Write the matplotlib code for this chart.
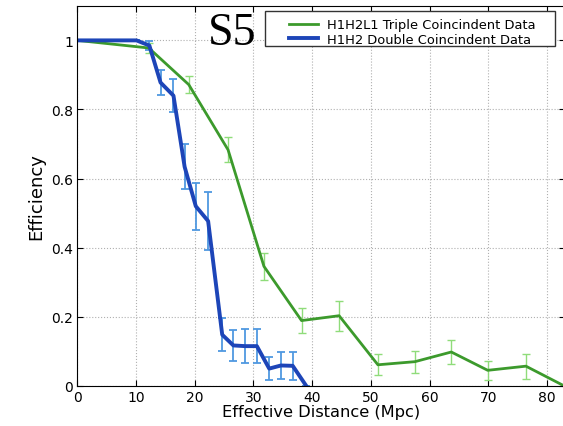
import matplotlib.pyplot as plt
from matplotlib.patches import Rectangle

# Efficiency vs effective distance, S5 run
triple_dist = [0, 12.2, 19.0, 25.7, 31.8, 38.2, 44.6, 51.2, 57.5, 63.7, 69.9, 76.4, 82.9]
triple_eff = [1.0, 0.978, 0.872, 0.683, 0.346, 0.189, 0.203, 0.061, 0.07, 0.098, 0.045, 0.057, 0.0]
triple_err = [0, 0.015, 0.024, 0.036, 0.04, 0.036, 0.043, 0.03, 0.032, 0.035, 0.027, 0.036, 0]

double_dist = [0, 10.1, 12.3, 14.2, 16.4, 18.3, 20.2, 22.3, 24.7, 26.6, 28.6, 30.6, 32.7, 34.7, 36.7, 39.0]
double_eff = [1.0, 1.0, 0.985, 0.878, 0.84, 0.634, 0.52, 0.477, 0.148, 0.117, 0.115, 0.115, 0.05, 0.059, 0.058, 0.0]
double_err = [0, 0, 0.012, 0.035, 0.047, 0.065, 0.068, 0.083, 0.048, 0.045, 0.05, 0.05, 0.034, 0.04, 0.04, 0]

fig = plt.figure(figsize=(5.63, 4.27), dpi=100)
ax = fig.add_axes([0.137, 0.094, 0.866, 0.89])

ax.errorbar(triple_dist, triple_eff, yerr=triple_err, fmt='none', ecolor='#8fdc7a',
            elinewidth=1.0, capsize=3, capthick=1.0)
ax.errorbar(double_dist, double_eff, yerr=double_err, fmt='none', ecolor='#4f98e0',
            elinewidth=1.3, capsize=3, capthick=1.3)
ax.plot(triple_dist, triple_eff, color='#3c9a2c', lw=2.0, label='H1H2L1 Triple Coincindent Data')
ax.plot(double_dist, double_eff, color='#1d45b8', lw=2.8, label='H1H2 Double Coincindent Data')

ax.set_xlim(0, 83)
ax.set_ylim(0, 1.1)
ax.set_xticks(range(0, 81, 10))
ax.set_yticks([0, 0.2, 0.4, 0.6, 0.8, 1.0])
ax.set_yticklabels(['0', '0.2', '0.4', '0.6', '0.8', '1'])
ax.tick_params(direction='in', top=True, right=True, labelsize=10, length=4, pad=3)
ax.grid(True, linestyle=':', color='#b0b0b0', lw=0.8)

ax.set_xlabel('Effective Distance (Mpc)', fontsize=11.7, labelpad=0)
ax.set_ylabel('Efficiency', fontsize=13, labelpad=4)

# legend without its own frame; the box is drawn separately, wider than the text
leg = fig.legend(*ax.get_legend_handles_labels(), loc='upper left', fontsize=9.4,
                 frameon=False, borderpad=0, borderaxespad=0, handlelength=2.2,
                 handletextpad=0.7, labelspacing=0.12,
                 bbox_to_anchor=(0.513, 0.955))
fig.patches.append(Rectangle((0.4707, 0.890), 0.515, 0.082, transform=fig.transFigure,
                             fill=True, facecolor='white', edgecolor='#333333',
                             lw=1.0, zorder=2))
leg.set_zorder(3)

fig.text(0.412, 0.92, 'S5', fontsize=33, family='Liberation Serif', ha='center', va='center')

fig.savefig('out.png', dpi=100)
